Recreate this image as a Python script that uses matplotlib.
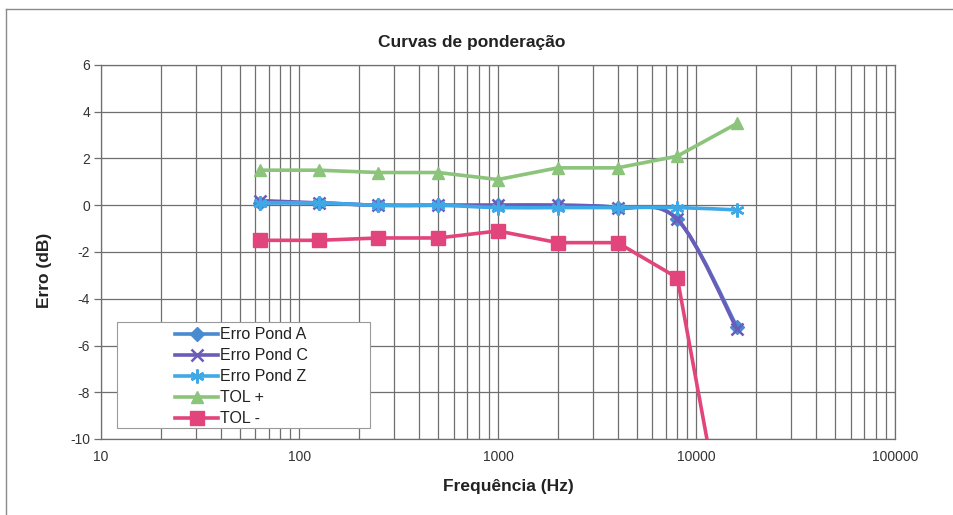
import numpy as np
import matplotlib
matplotlib.use("Agg")
import matplotlib.pyplot as plt
from matplotlib.path import Path
from matplotlib.patches import PathPatch, Rectangle
from matplotlib.lines import Line2D
from matplotlib.ticker import LogLocator, FixedLocator, NullFormatter

# ---- data ----
freqs = [63, 125, 250, 500, 1000, 2000, 4000, 8000, 16000]
erro_a = [0.1, 0.1, 0.0, 0.0, 0.0, 0.0, -0.1, -0.6, -5.2]
erro_c = [0.2, 0.1, 0.0, 0.0, 0.0, 0.0, -0.1, -0.6, -5.3]
erro_z = [0.1, 0.1, 0.0, 0.0, -0.1, -0.1, -0.1, -0.1, -0.2]
tol_plus = [1.5, 1.5, 1.4, 1.4, 1.1, 1.6, 1.6, 2.1, 3.5]
tol_minus = [-1.5, -1.5, -1.4, -1.4, -1.1, -1.6, -1.6, -3.1, -17.0]
series_names = ["Erro Pond A", "Erro Pond C", "Erro Pond Z", "TOL +", "TOL -"]
x_ticks = [10, 100, 1000, 10000, 100000]
y_ticks = [-10, -8, -6, -4, -2, 0, 2, 4, 6]

plt.rcParams['font.family'] = ['Liberation Sans', 'DejaVu Sans']

fig = plt.figure(figsize=(9.54, 5.15), dpi=100)
W, H = 954, 515
ax = fig.add_axes([101 / W, 1 - 439 / H, 794 / W, 374 / H])
ax.set_xscale('log')
ax.set_xlim(10, 100000)
ax.set_ylim(-10, 6)


def smooth_path(xs, ys):
    """Excel-like smooth line: cubic Bezier through points in log-x space."""
    lx = np.log10(xs)
    ys = np.asarray(ys, float)
    n = len(lx)
    verts = [(xs[0], ys[0])]
    codes = [Path.MOVETO]
    for i in range(n - 1):
        i0 = max(i - 1, 0)
        i3 = min(i + 2, n - 1)
        c1x = lx[i] + (lx[i + 1] - lx[i0]) / 6
        c1y = ys[i] + (ys[i + 1] - ys[i0]) / 6
        c2x = lx[i + 1] - (lx[i3] - lx[i]) / 6
        c2y = ys[i + 1] - (ys[i3] - ys[i]) / 6
        verts += [(10 ** c1x, c1y), (10 ** c2x, c2y), (xs[i + 1], ys[i + 1])]
        codes += [Path.CURVE4] * 3
    return Path(verts, codes)


colors = ['#4A8AD0', '#6A5CB8', '#3FA8E6', '#8CC47C', '#E2457C']
markers = ['D', 'x', (6, 2, 0), '^', 's']
msizes = [7, 8, 10, 9, 10]
mews = [1, 1.8, 1.8, 1, 1]
data = [erro_a, erro_c, erro_z, tol_plus, tol_minus]
smooth = [True, True, True, False, False]

handles = []
for i, (vals, name) in enumerate(zip(data, series_names)):
    z = 3 + i
    if smooth[i]:
        p = PathPatch(smooth_path(freqs, vals), facecolor='none', edgecolor=colors[i],
                      lw=2.6, zorder=z, capstyle='round', joinstyle='round')
        ax.add_patch(p)
        ax.plot(freqs, vals, ls='none', marker=markers[i], ms=msizes[i], color=colors[i],
                mec=colors[i], mew=mews[i], zorder=z)
    else:
        ax.plot(freqs, vals, color=colors[i], lw=2.6, marker=markers[i], ms=msizes[i],
                mec=colors[i], mew=mews[i], zorder=z, solid_joinstyle='round')
    handles.append(Line2D([], [], color=colors[i], lw=2.6, marker=markers[i], ms=msizes[i],
                          mec=colors[i], mew=mews[i]))

# grid
ax.xaxis.set_major_locator(FixedLocator(x_ticks))
ax.xaxis.set_minor_locator(LogLocator(base=10, subs=np.arange(2, 10)))
ax.xaxis.set_minor_formatter(NullFormatter())
ax.set_xticklabels([str(v) for v in x_ticks])
ax.set_yticks(y_ticks)
ax.set_yticklabels([str(v) for v in y_ticks])
ax.grid(True, which='major', color='#6f6f6f', lw=0.9)
ax.grid(True, which='minor', axis='x', color='#6f6f6f', lw=0.9)
ax.set_axisbelow(True)
for s in ax.spines.values():
    s.set_color('#6f6f6f')
    s.set_linewidth(0.9)
ax.tick_params(axis='x', which='both', length=0, pad=8, labelsize=10, colors='#333333')
ax.tick_params(axis='y', which='major', length=5, width=0.9, color='#6f6f6f', pad=3,
               labelsize=10, labelcolor='#333333')

# legend with box
ax.add_patch(Rectangle(((117 - 101) / 794, (439 - 428) / 374), (370 - 117) / 794, (428 - 322) / 374,
                       transform=ax.transAxes, facecolor='white', edgecolor='#9a9a9a', lw=0.8,
                       zorder=10))
leg = ax.legend(handles, series_names, loc='upper left',
                bbox_to_anchor=((172 - 101) / 794, (439 - 324) / 374),
                frameon=False, fontsize=11.5, handlelength=2.7, handletextpad=0.1,
                labelspacing=0.38, borderpad=0.2, borderaxespad=0)
leg.set_zorder(11)
for t in leg.get_texts():
    t.set_color('#222222')

# titles
fig.text(472 / W, 1 - 42 / H, 'Curvas de ponderação', ha='center', va='center',
         fontsize=12.5, fontweight='bold', color='#222222')
fig.text(508 / W, 1 - 487 / H, 'Frequência (Hz)', ha='center', va='center',
         fontsize=12.5, fontweight='bold', color='#222222')
fig.text(45 / W, 1 - 270 / H, 'Erro (dB)', ha='center', va='center', rotation=90,
         fontsize=12.5, fontweight='bold', color='#222222')

# outer chart border
fig.add_artist(Line2D([6 / W, 6 / W], [0, 1 - 9 / H], transform=fig.transFigure,
                      color='#8a8a8a', lw=1))
fig.add_artist(Line2D([6 / W, 1], [1 - 9 / H, 1 - 9 / H], transform=fig.transFigure,
                      color='#8a8a8a', lw=1))

fig.savefig('out.png', dpi=100)
